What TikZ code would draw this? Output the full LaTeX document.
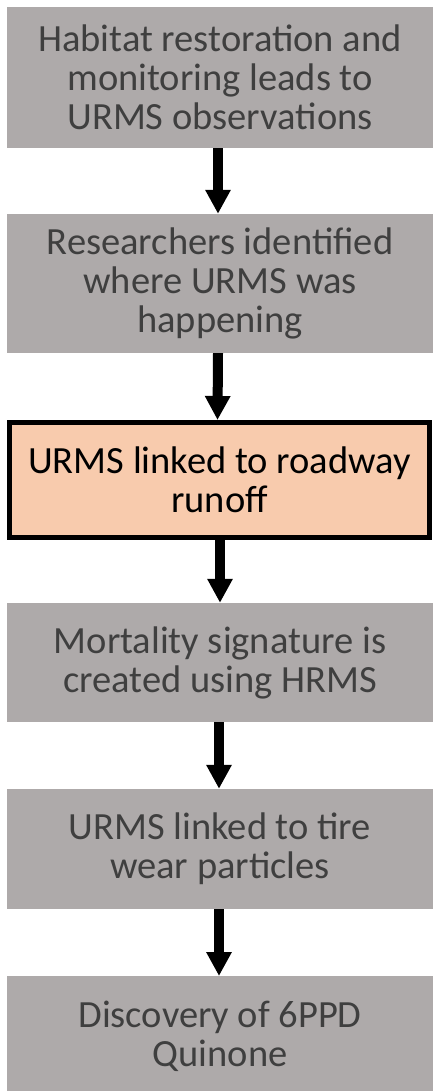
\documentclass[tikz,border=0pt]{standalone}
\usepackage{fontspec}
\setmainfont{Carlito}
\usetikzlibrary{arrows.meta}
\definecolor{boxgray}{HTML}{AEAAAA}
\definecolor{txtgray}{HTML}{3F3F3F}
\definecolor{boxorange}{HTML}{F8CBAD}
\tikzset{
  stepbox/.style={rectangle, fill=boxgray, draw=none, minimum width=426pt,
    align=center, text=txtgray, inner sep=0pt,
    font=\fontsize{38.5pt}{39pt}\selectfont},
  keybox/.style={stepbox, fill=boxorange, draw=black, line width=5pt, text=black,
    minimum width=420pt},
  flowarrow/.style={draw=black, line width=10pt, -{Triangle[length=24pt,width=24pt]}}
}
\begin{document}
\begin{tikzpicture}[x=1pt,y=-1pt]
\useasboundingbox (0,0) rectangle (434,1091);
\clip (0,0) rectangle (434,1091);
\node[stepbox, minimum height=141pt] (b1) at (220,77.5) {Habitat restoration and\\monitoring leads to\\URMS observations};
\node[stepbox, minimum height=139pt] (b2) at (220,283.5) {Researchers identified\\where URMS was\\happening};
\node[keybox, minimum height=115pt] (b3) at (219.5,480) {URMS linked to roadway\\runoff};
\node[stepbox, minimum height=119pt] (b4) at (220,662.5) {Mortality signature is\\created using HRMS};
\node[stepbox, minimum height=120pt] (b5) at (220,849) {URMS linked to tire\\wear particles};
\node[stepbox, minimum height=120pt, anchor=north] (b6) at (220,976) {Discovery of 6PPD\\Quinone};
\draw[flowarrow] ([xshift=-2pt]b1.south) -- ([xshift=-2pt]b2.north);
\draw[flowarrow] ([xshift=-2pt]b2.south) -- ([xshift=-2pt]b3.north);
\draw[flowarrow] ([xshift=0.5pt]b3.south) -- ([xshift=0pt]b4.north);
\draw[flowarrow] ([xshift=-1pt]b4.south) -- ([xshift=-1pt]b5.north);
\draw[flowarrow] ([xshift=-1pt]b5.south) -- ([xshift=-1pt]b6.north);
\end{tikzpicture}
\end{document}
